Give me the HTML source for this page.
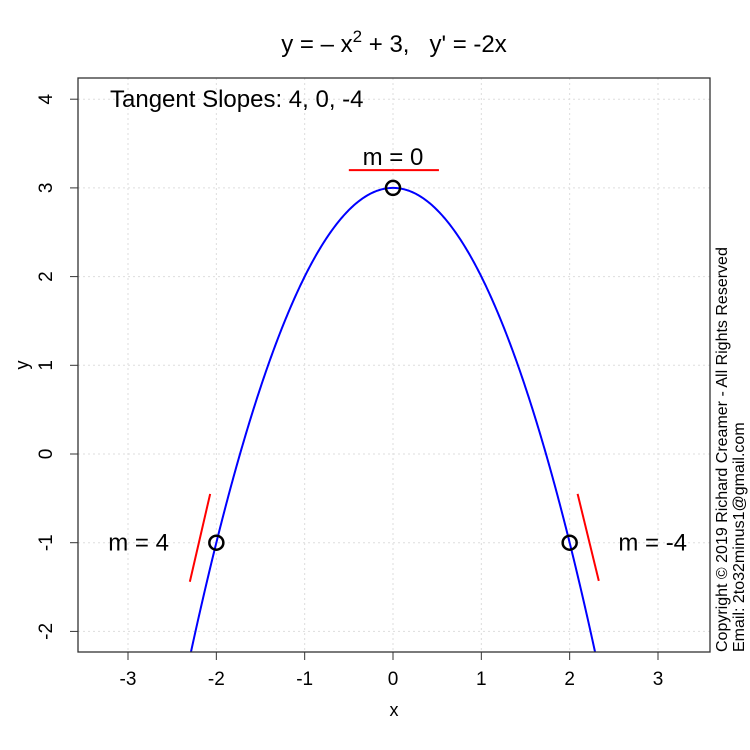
<!DOCTYPE html>
<html><head><meta charset="utf-8"><style>html,body{margin:0;background:#fff;overflow:hidden;width:750px;height:750px}#wrap{position:relative;width:750px;height:750px;overflow:hidden}svg{font-family:"Liberation Sans",Arial,sans-serif;display:block}</style></head>
<body>
<div id="wrap">
<svg id="c" width="750" height="750"></svg>
<svg width="750" height="750" style="position:absolute;left:0;top:0">
<text x="394" y="52" text-anchor="middle" font-size="24">y = – x<tspan dy="-10" font-size="17">2</tspan><tspan dy="10"> + 3,&#160;&#160; y' = -2x</tspan></text>
<text x="110" y="107" font-size="24">Tangent Slopes: 4, 0, -4</text>
<text x="394" y="716" text-anchor="middle" font-size="18">x</text>
<text transform="translate(28,365) rotate(-90)" text-anchor="middle" font-size="18">y</text>
<text transform="translate(727,652) rotate(-90)" font-size="16">Copyright © 2019 Richard Creamer - All Rights Reserved</text>
<text transform="translate(744,652) rotate(-90)" font-size="16">Email: 2to32minus1@gmail.com</text>
</svg>
</div>
<script>
const xTicks=[-3,-2,-1,0,1,2,3];
const yTicks=[-2,-1,0,1,2,3,4];
const points=[[-2,-1],[0,3],[2,-1]];
const segments=[[-2.3,-1.44,-2.07,-0.45],[-0.5,3.2,0.52,3.2],[2.09,-0.45,2.33,-1.43]];
const slopeLabels=["m = 4","m = 0","m = -4"];
const labelPos=[[-2.88,-1],[0,3.35],[2.94,-1]];
const X=v=>393+v*88.33, Y=v=>454-v*88.7;
const L=78,R=710,T=78,B=652;
const s=document.getElementById('c');const NS='http://www.w3.org/2000/svg';
function mk(t,a,p){const e=document.createElementNS(NS,t);for(const k in a)e.setAttribute(k,a[k]);(p||s).appendChild(e);return e;}
xTicks.forEach(v=>{const g=mk('line',{x1:X(v),x2:X(v),y1:T,y2:B,stroke:'#ddd','stroke-dasharray':'2,3'});


const t=mk('line',{x1:X(v),x2:X(v),y1:B,y2:B+8,stroke:'#333'});


const l=mk('text',{x:X(v),y:B+33,'text-anchor':'middle','font-size':19});l.textContent=v;

});
yTicks.forEach(v=>{const g=mk('line',{x1:L,x2:R,y1:Y(v),y2:Y(v),stroke:'#ddd','stroke-dasharray':'2,3'});


const t=mk('line',{x1:L-8,x2:L,y1:Y(v),y2:Y(v),stroke:'#333'});


const l=mk('text',{x:0,y:0,'text-anchor':'middle','font-size':19,transform:`translate(${L-26},${Y(v)}) rotate(-90)`});l.textContent=v;

});
const yMin=(454-B)/88.7;
const xLim=Math.sqrt(3-yMin);
let d='';for(let i=0;i<=400;i++){const x=-xLim+i*2*xLim/400;d+=(i?'L':'M')+X(x).toFixed(2)+','+Y(3-x*x).toFixed(2);}
const c=mk('path',{d:d,fill:'none',stroke:'#0000ff','stroke-width':2});


segments.forEach(g=>{const e=mk('line',{x1:X(g[0]),y1:Y(g[1]),x2:X(g[2]),y2:Y(g[3]),stroke:'red','stroke-width':2});

});
points.forEach(p=>{const e=mk('circle',{cx:X(p[0]),cy:Y(p[1]),r:7,fill:'none',stroke:'#000','stroke-width':2.5});

});
slopeLabels.forEach((t,i)=>{const e=mk('text',{x:X(labelPos[i][0]),y:Y(labelPos[i][1])+8,'text-anchor':'middle','font-size':24});e.textContent=t;

});
const box=mk('rect',{x:L,y:T,width:R-L,height:B-T,fill:'none',stroke:'#333','stroke-width':1.3});


</script>
</body></html>
